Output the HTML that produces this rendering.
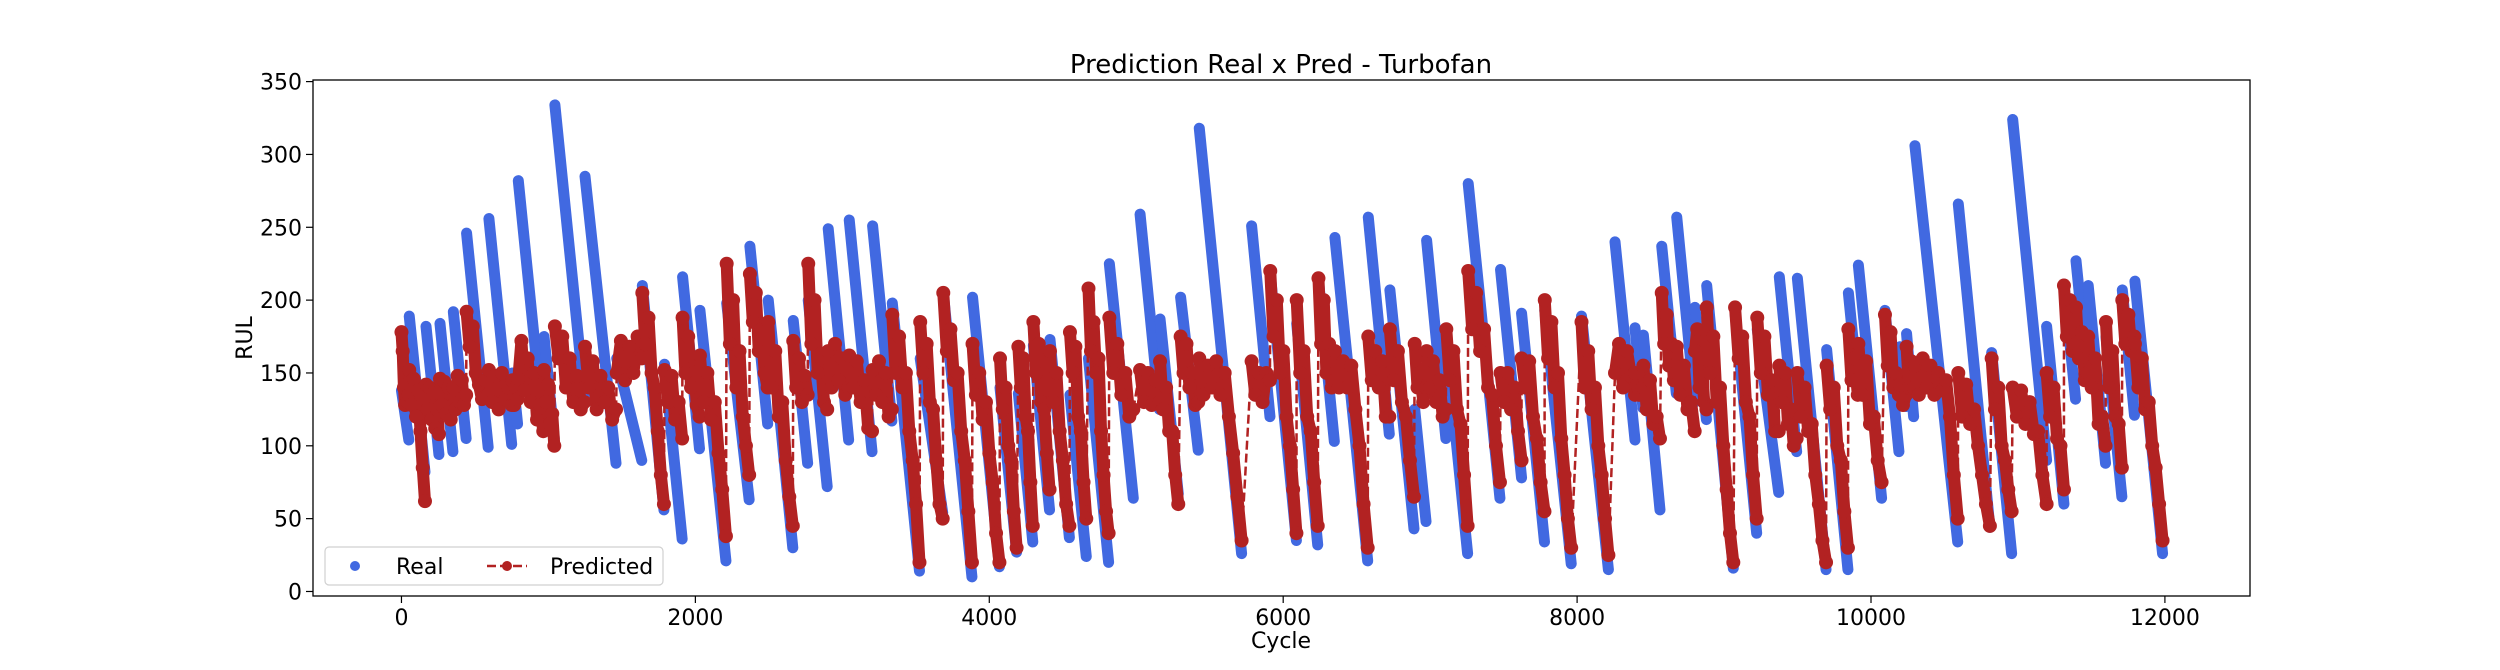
<!DOCTYPE html>
<html><head><meta charset="utf-8"><style>
html,body{margin:0;padding:0;background:#fff;}
svg{display:block;font-family:"DejaVu Sans","Liberation Sans",sans-serif;}
</style></head><body>
<svg id="chart" width="2500" height="670" viewBox="0 0 2500 670" xmlns="http://www.w3.org/2000/svg">
<rect width="2500" height="670" fill="#fff"/>
<defs><clipPath id="plotclip"><rect x="313" y="80" width="1937" height="516"/></clipPath></defs>
<text x="1281" y="73" font-size="26" text-anchor="middle" fill="#000">Prediction Real x Pred - Turbofan</text>
<g id="realg" clip-path="url(#plotclip)"></g>
<g id="predg" clip-path="url(#plotclip)"></g>
<rect x="313" y="80" width="1937" height="516" fill="none" stroke="#000" stroke-width="1.3"/>
<g id="xticks"></g>
<g id="yticks"></g>
<text x="1281" y="648" font-size="22" text-anchor="middle">Cycle</text>
<text x="252" y="338" font-size="22" text-anchor="middle" transform="rotate(-90 252 338)">RUL</text>
<g>
<rect x="325" y="547" width="338" height="38" rx="4" fill="#fff" fill-opacity="0.8" stroke="#d0d0d0" stroke-width="1.2"/>
<g>
<circle cx="355" cy="566" r="5" fill="#4169e1"/>
<text x="396" y="574" font-size="22">Real</text>
</g>
<g>
<line x1="487" y1="566" x2="527" y2="566" stroke="#b22222" stroke-width="2.5" stroke-dasharray="9,4"/>
<circle cx="507" cy="566" r="5" fill="#b22222"/>
<text x="550" y="574" font-size="22">Predicted</text>
</g>
</g>
</svg>
<script>
// Real RUL segments (one per engine): start cycle, start RUL, end cycle, end RUL
const segStart = [0,53,167,262,353,443,595,755,795,970,1044,1249,1465,1639,1790,1913,2031,2213,2371,2496,2666,2768,2904,3047,3206,3340,3530,3687,3886,4073,4198,4300,4413,4549,4675,4817,5026,5162,5302,5429,5785,5912,6092,6240,6352,6579,6726,6895,6976,7110,7259,7479,7622,7780,8030,8258,8394,8451,8576,8678,8802,8882,9075,9226,9376,9499,9698,9846,9914,10095,10197,10242,10299,10594,10821,10964,11195,11313,11395,11478,11599,11710,11796];
const segTop   = [138,189,182,184,192,246,256,150,282,175,334,285,160,210,156,216,193,198,237,200,186,200,249,255,251,198,160,205,202,140,136,169,173,135,160,225,259,187,202,318,251,218,184,214,243,257,207,125,241,171,280,221,191,193,189,240,181,176,237,257,195,210,191,180,216,215,166,205,224,193,168,177,306,266,164,324,182,211,227,210,175,207,213];
const segEnd   = [50,160,255,350,440,590,750,790,965,1040,1245,1460,1635,1786,1910,2028,2208,2366,2492,2663,2764,2897,3043,3202,3337,3525,3683,3882,4069,4186,4296,4410,4545,4660,4812,4980,5158,5286,5422,5717,5910,6090,6235,6348,6575,6722,6890,6972,7107,7255,7475,7622,7778,7960,8213,8394,8448,8564,8675,8800,8880,9063,9222,9372,9494,9694,9843,9910,10072,10190,10238,10290,10590,10809,10957,11195,11313,11392,11475,11596,11707,11793,11984];
const segBottom= [104,82,94,96,105,99,101,115,112,105,133,88,90,56,36,98,21,63,115,30,88,72,104,96,117,14,54,10,17,27,34,56,37,24,20,64,125,67,97,26,120,35,32,103,21,108,43,48,105,26,64,78,34,19,15,104,126,56,136,130,118,16,40,68,96,15,15,140,64,96,127,120,34,44,26,90,60,132,147,88,65,121,26];
// Predicted RUL samples per engine (evenly spaced over the engine's cycles)
const predValues = [
[178,165,140,128,142,130,135],
[152,128,146,120,138,110,85,62],
[142,125,140,118,136,112,125,108],
[146,128,144,122,140,118,128],
[140,125,148,130,145,128,135],
[192,168,182,150,142,132,145,135],
[152,130,148,125,150,132,140,128],
[145,128,140,132],
[146,172,138,160,130,150,118,128,110],
[152,130,142,115,122,100],
[182,160,175,140,160,130,148,125,130],
[168,140,158,125,148,130,140,118,125],
[150,172,145,168,150,175,160],
[205,170,188,150,140,110,80,60],
[152,130,148,118,130,105],
[188,150,175,140,160,128,120],
[162,130,150,118,130,95,70,38],
[225,170,200,140,165,120,100,80],
[218,185,205,165,180,150,140],
[185,140,165,120,130,90,65,45],
[172,140,160,130,148,135],
[225,170,200,150,160,130,125],
[165,140,170,145,160,135,140],
[162,140,158,130,145,112,110],
[152,135,158,130,150,120,125],
[190,150,175,140,150,110,90,60,20],
[185,150,170,130,125,90,60,50],
[205,165,180,145,150,110,90,55,20],
[170,135,150,118,130,95,75,40,20],
[160,125,140,100,90,55,30],
[168,140,160,120,110,75,45],
[185,150,170,130,125,95,70],
[165,130,150,110,90,60,45],
[178,150,168,120,110,75,50],
[208,165,185,150,160,110,80,55,40],
[188,150,170,135,150,120,125],
[152,130,150,128,145,130],
[158,125,140,110,110,80,60],
[175,150,170,140,150,128,130],
[160,135,155,140,158,135,150,120,95,65,35],
[158,135,150,130,150,145],
[220,175,200,150,165,120,100,70,40],
[200,150,165,120,110,75,45],
[215,170,200,150,170,140,145],
[165,140,158,140,155,125,100,60,30],
[175,145,165,140,158,120,120],
[180,145,165,130,120,90,65],
[170,140,150,130,140],
[165,140,158,130,145,120,125],
[180,145,165,125,115,80,45],
[220,180,205,165,180,140,135,100,75],
[150,130,150,125,140,110,90],
[160,140,158,120,105,75,55],
[200,160,185,140,150,105,80,50,30],
[185,140,165,125,140,100,80,50,25],
[150,170,140,165,148,135],
[150,135,140],
[155,125,145,115,120,105],
[205,170,190,155,170,145,150],
[168,135,155,125,130,110],
[165,180,140,160,130,125],
[195,150,175,130,140,100,70,40,20],
[195,160,175,130,120,80,50],
[188,150,175,135,145,110,110],
[155,130,150,115,125,100,105],
[150,120,140,110,115,80,60,35,20],
[155,125,140,100,90,55,30],
[180,145,160,135],
[170,135,158,115,120,90,75],
[190,155,178,140,150,135],
[142,128,135],
[168,140,158,140],
[155,135,160,140,155,135,150,138,145,120,80,50],
[150,120,142,115,125,100,80,60,45],
[160,125,140,100,90,70,55],
[140,120,138,115,130,108,110,80,60],
[150,120,140,105,100,70],
[210,175,200,165,170],
[195,160,178,145,150],
[175,140,160,115,120,100],
[185,140,165,120,115,85],
[200,170,190,165,175],
[170,140,160,125,130,100,85,60,35]
];
const xTickValues = [0,2000,4000,6000,8000,10000,12000];
const yTickValues = [0,50,100,150,200,250,300,350];

const NS = 'http://www.w3.org/2000/svg';
const X0 = 313, X1 = 2250, Y0 = 80, Y1 = 596;
const xMin = -602, xMax = 12579, yMin = -3.1, yMax = 351.1;
function xs(v){ return X0 + (v - xMin) / (xMax - xMin) * (X1 - X0); }
function ys(v){ return Y1 - (v - yMin) / (yMax - yMin) * (Y1 - Y0); }
function mk(tag, attrs, parent){ const e = document.createElementNS(NS, tag); for (const k in attrs) e.setAttribute(k, attrs[k]); parent.appendChild(e); return e; }

// axes ticks
const xg = document.getElementById('xticks');
xTickValues.forEach(v => {
  const x = xs(v);
  const t = mk('line', {x1:x, y1:Y1, x2:x, y2:Y1+7, stroke:'#000', 'stroke-width':1.2}, xg);
  
  
  const l = mk('text', {x:x, y:Y1+29, 'font-size':22, 'text-anchor':'middle'}, xg);
  
  
  l.textContent = v;
});
const yg = document.getElementById('yticks');
yTickValues.forEach(v => {
  const y = ys(v);
  const t = mk('line', {x1:X0-7, y1:y, x2:X0, y2:y, stroke:'#000', 'stroke-width':1.2}, yg);
  
  
  const l = mk('text', {x:X0-11, y:y+8, 'font-size':22, 'text-anchor':'end'}, yg);
  
  
  l.textContent = v;
});

// real series
const rg = document.getElementById('realg');
segStart.forEach((s, i) => {
  const ln = mk('line', {x1:xs(s), y1:ys(segTop[i]), x2:xs(segEnd[i]), y2:ys(segBottom[i]), stroke:'#4169e1', 'stroke-width':11, 'stroke-linecap':'round'}, rg);
  
  
});

// predicted series
const pg = document.getElementById('predg');
let prev = null;
predValues.forEach((vals, i) => {
  const s = segStart[i], e = segEnd[i];
  const pts = vals.map((v, j) => [xs(s + (e - s) * (vals.length > 1 ? j / (vals.length - 1) : 0)), ys(v)]);
  if (prev) {
    const d = mk('line', {x1:prev[0], y1:prev[1], x2:pts[0][0], y2:pts[0][1], stroke:'#b22222', 'stroke-width':2.5, 'stroke-dasharray':'9,4'}, pg);
    
    
  }
  const pl = mk('polyline', {points: pts.map(p => p.join(',')).join(' '), fill:'none', stroke:'#b22222', 'stroke-width':12, 'stroke-linejoin':'round', 'stroke-linecap':'round'}, pg);
  
  
  pts.forEach(p => {
    const c = mk('circle', {cx:p[0], cy:p[1], r:7, fill:'#b22222'}, pg);
    
    
  });
  prev = pts[pts.length - 1];
});
</script>
</body></html>
